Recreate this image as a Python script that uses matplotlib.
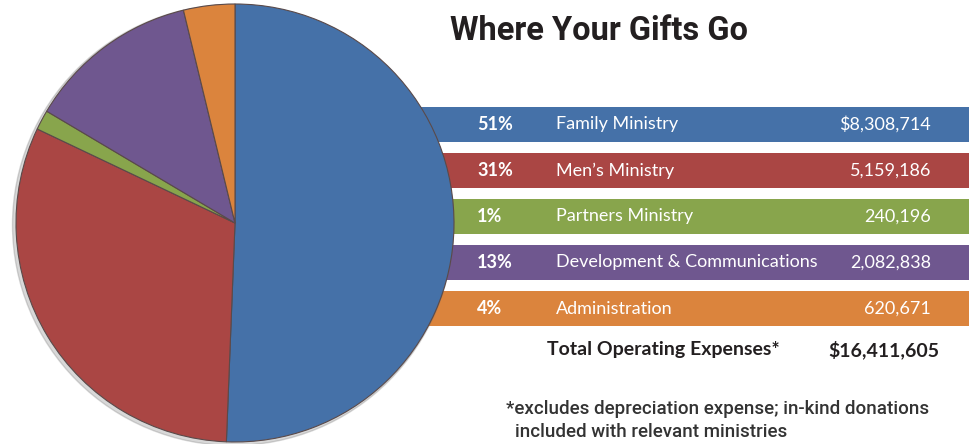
import matplotlib.pyplot as plt
import matplotlib.patches as mpatches

# categories and values
labels = ["Family Ministry", "Men\u2019s Ministry", "Partners Ministry",
          "Development & Communications", "Administration"]
percents = [51, 31, 1, 13, 4]
amounts = [8308714, 5159186, 240196, 2082838, 620671]
amount_text = ["$8,308,714", "5,159,186", "240,196", "2,082,838", "620,671"]
colors = ["#4571A8", "#AA4644", "#88A54C", "#6F578F", "#DB843D"]
total_text = "$16,411,605"

W, H = 969, 444
fig = plt.figure(figsize=(W / 100, H / 100), dpi=100)
ax = fig.add_axes([0, 0, 1, 1])
ax.set_xlim(0, W)
ax.set_ylim(0, H)
ax.set_aspect("equal")
ax.axis("off")

# pixel-from-top helper
def py(y):
    return H - y

# coloured rows (drawn behind the pie)
bar_top = 107
bar_h = 35
step = 46
for i, c in enumerate(colors):
    yc = py(bar_top + i * step + bar_h / 2)
    ax.barh(yc, W - 420, left=420, height=bar_h, color=c, zorder=1)
    ax.text(477, yc, "%d%%" % percents[i], color="white", fontsize=13,
            fontweight="bold", family="Lato", va="center", ha="left", zorder=5)
    ax.text(556, yc, labels[i], color="white", fontsize=13,
            family="Lato", va="center", ha="left", zorder=5)
    ax.text(931, yc, amount_text[i], color="white", fontsize=13,
            family="Lato", va="center", ha="right", zorder=5)

# pie shadow
cx, cy, r = 235, py(223), 219
shadow = mpatches.Circle((cx - 2, cy - 2), r + 1.5, color="#666666", alpha=0.25, zorder=2)
ax.add_patch(shadow)

wedges, _ = ax.pie(amounts, colors=colors, startangle=90, counterclock=False,
                   center=(cx, cy), radius=r, frame=True,
                   wedgeprops=dict(edgecolor="#5a4a4a", linewidth=0.8))
for w in wedges:
    w.set_zorder(3)
ax.set_xlim(0, W)
ax.set_ylim(0, H)
ax.axis("off")

# title
ax.text(450, py(31), "Where Your Gifts Go", fontsize=23.5, fontweight="bold",
        family="Roboto", color="#231f20", va="center", ha="left")

# total
ax.text(547, py(350), "Total Operating Expenses*", fontsize=14, fontweight="bold",
        family="Lato", color="#231f20", va="center", ha="left")
ax.text(939, py(350), total_text, fontsize=14, fontweight="bold",
        family="Lato", color="#231f20", va="center", ha="right")

# footnote
ax.text(506, py(409), "*excludes depreciation expense; in-kind donations",
        fontsize=13.5, fontweight="medium", family="Roboto",
        color="#333333", va="center", ha="left")
ax.text(515, py(432), "included with relevant ministries",
        fontsize=13.5, fontweight="medium", family="Roboto",
        color="#333333", va="center", ha="left")

fig.savefig("out.png", dpi=100)
